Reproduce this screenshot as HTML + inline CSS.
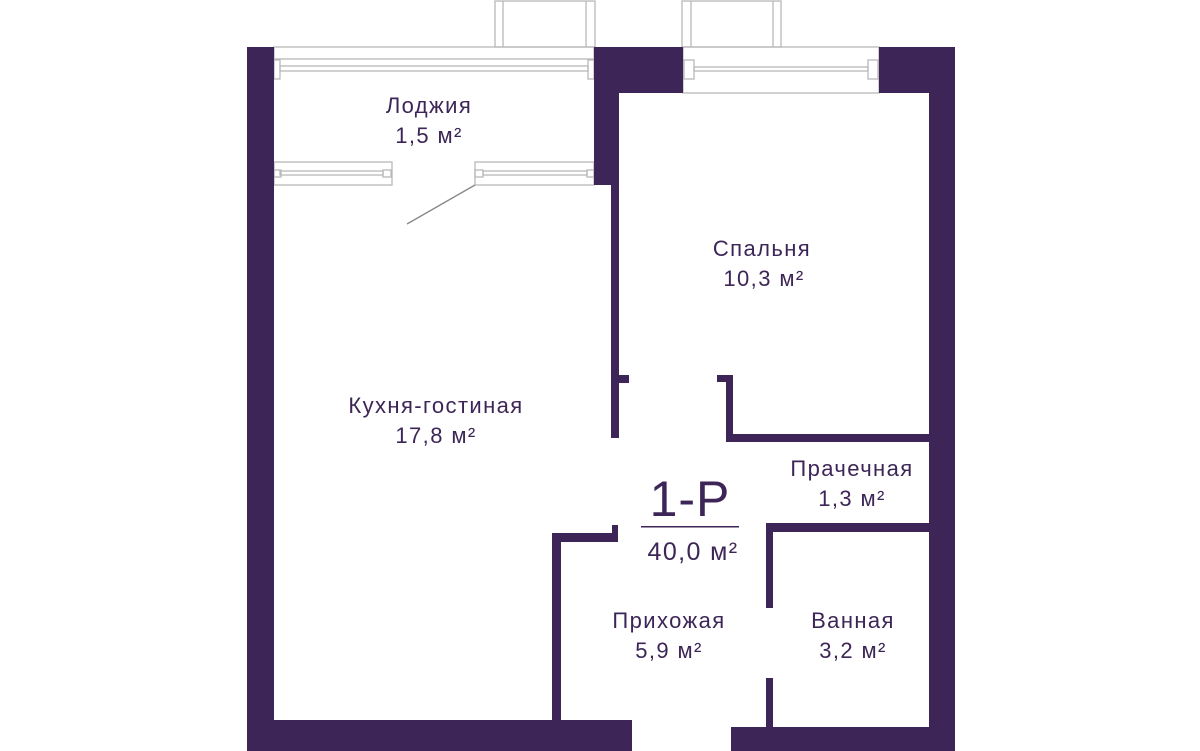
<!DOCTYPE html>
<html><head><meta charset="utf-8"><style>
html,body{margin:0;padding:0;background:#fff;}
svg{display:block;}
text{font-family:"Liberation Sans",sans-serif;fill:#3d2657;text-anchor:middle;font-size:22px;letter-spacing:1.4px;}
</style></head><body>
<svg width="1200" height="751" viewBox="0 0 1200 751" xmlns="http://www.w3.org/2000/svg">
<g fill="none" stroke="#b8b8b8" stroke-width="1.3">
 <rect x="495" y="1" width="100" height="46"/><line x1="503" y1="1" x2="503" y2="47"/><line x1="586" y1="1" x2="586" y2="47"/>
 <rect x="682" y="1" width="99" height="46"/><line x1="691" y1="1" x2="691" y2="47"/><line x1="773" y1="1" x2="773" y2="47"/>
 <rect x="274" y="47" width="320" height="12"/>
 <rect x="280" y="66" width="308" height="5"/>
 <rect x="274" y="60" width="6" height="19"/><rect x="588" y="60" width="6" height="19"/>
 <rect x="683" y="47" width="196" height="46"/>
 <rect x="694" y="67" width="174" height="4"/>
 <rect x="684" y="60" width="10" height="19"/><rect x="868" y="60" width="10" height="19"/>
 <rect x="274" y="162" width="118" height="23"/><rect x="280" y="171" width="103" height="4"/>
 <rect x="274" y="170" width="7" height="7"/><rect x="383" y="170" width="8" height="7"/>
 <rect x="475" y="162" width="119" height="23"/><rect x="483" y="171" width="104" height="4"/>
 <rect x="475" y="170" width="8" height="7"/><rect x="587" y="170" width="7" height="7"/>
 <line x1="475" y1="185" x2="407" y2="224" stroke="#888"/>
</g>
<g fill="#3d2657">
 <rect x="247" y="47" width="27" height="704"/>
 <rect x="247" y="720" width="385" height="31"/>
 <rect x="594" y="47" width="89" height="46"/>
 <rect x="594" y="47" width="24" height="138"/>
 <rect x="611" y="47" width="8" height="391"/>
 <rect x="611" y="375" width="18" height="8"/>
 <rect x="879" y="47" width="76" height="46"/>
 <rect x="929" y="47" width="26" height="704"/>
 <rect x="726" y="375" width="7" height="67"/>
 <rect x="717" y="375" width="16" height="7"/>
 <rect x="726" y="434" width="204" height="8"/>
 <rect x="766" y="523" width="164" height="9"/>
 <rect x="766" y="523" width="7" height="85"/>
 <rect x="766" y="678" width="7" height="50"/>
 <rect x="731" y="727" width="224" height="24"/>
 <rect x="552" y="533" width="9" height="190"/>
 <rect x="552" y="533" width="66" height="9"/>
 <rect x="612" y="525" width="6" height="17"/>
 <rect x="641" y="526" width="98" height="1.5"/>
</g>
<text x="429" y="113">Лоджия</text>
<text x="429" y="143">1,5 м²</text>
<text x="762" y="256">Спальня</text>
<text x="764" y="286">10,3 м²</text>
<text x="436" y="413">Кухня-гостиная</text>
<text x="436" y="443">17,8 м²</text>
<text x="852" y="476">Прачечная</text>
<text x="852" y="506">1,3 м²</text>
<text x="690" y="516" style="font-size:50px;letter-spacing:1px">1-P</text>
<text x="693" y="560" style="font-size:25px">40,0 м²</text>
<text x="669" y="628">Прихожая</text>
<text x="669" y="658">5,9 м²</text>
<text x="853" y="628">Ванная</text>
<text x="853" y="658">3,2 м²</text>
</svg>
</body></html>
